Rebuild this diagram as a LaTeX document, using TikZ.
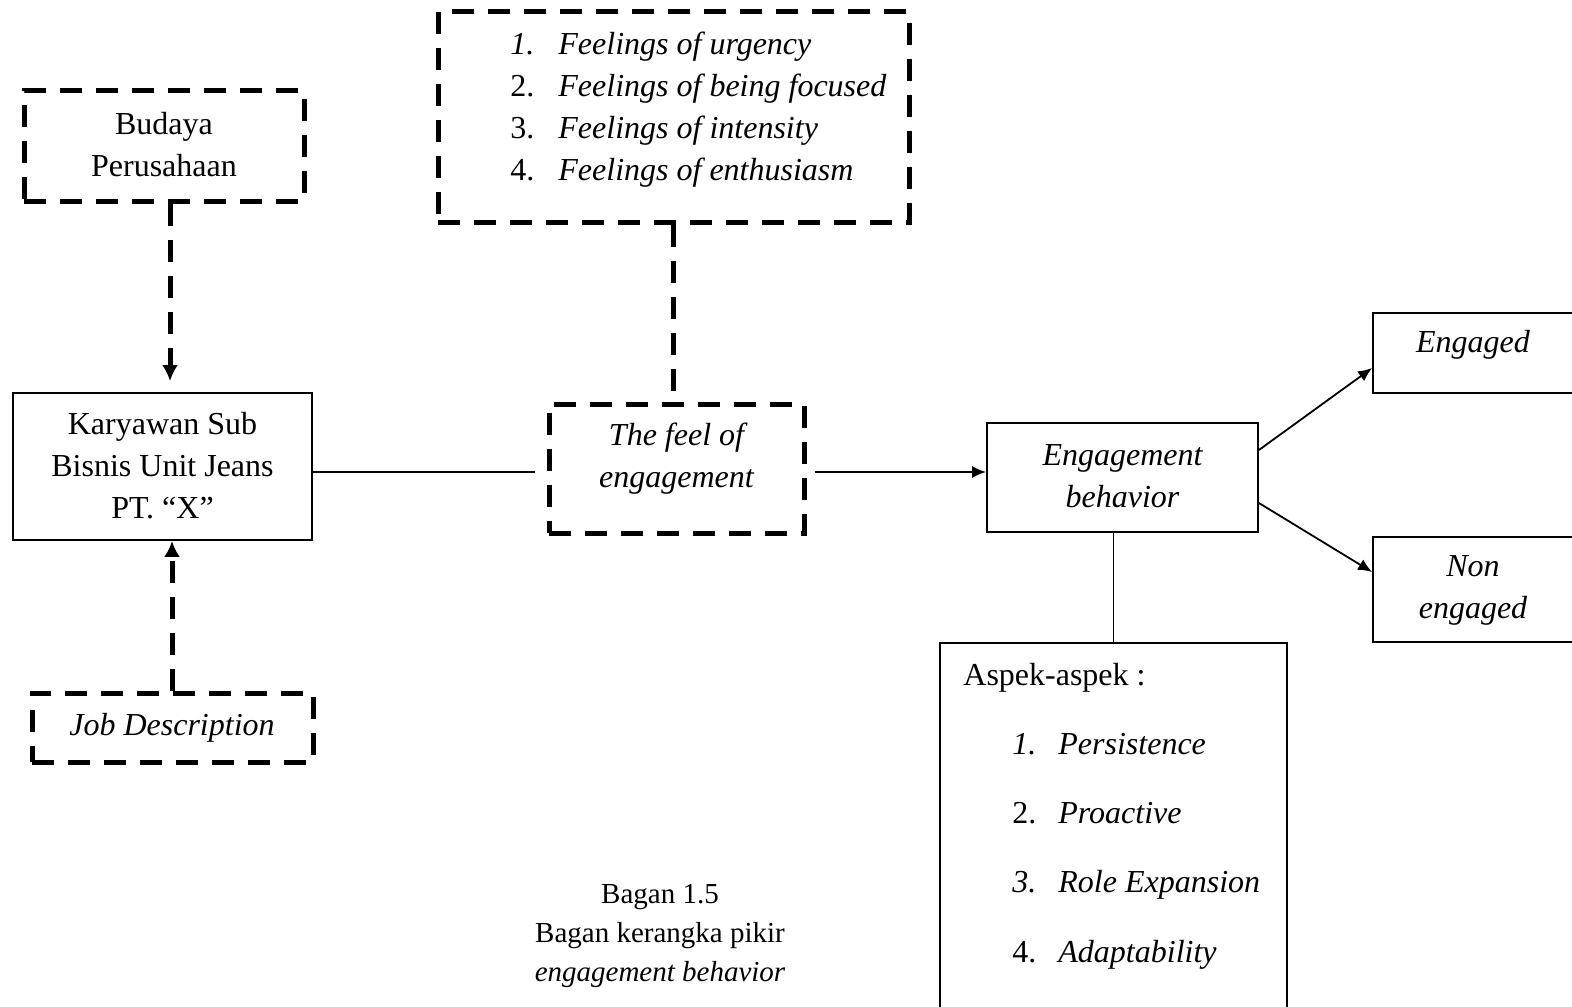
\documentclass[tikz,border=0pt]{standalone}
\usepackage{fontspec}
\setmainfont{Liberation Serif}
\usetikzlibrary{arrows.meta}
\begin{document}
\begin{tikzpicture}[x=0.5pt,y=-0.5pt,
  dbox/.style={draw, line width=2.5pt, dash pattern=on 11pt off 7pt, inner sep=0pt},
  sbox/.style={draw, line width=0.9pt, inner sep=0pt},
  txt/.style={font=\fontsize{16}{21}\selectfont, align=center, inner sep=0pt},
  ltxt/.style={font=\fontsize{16}{21}\selectfont, inner sep=0pt, anchor=base west},
  ctxt/.style={font=\fontsize{14.5}{19.5}\selectfont, inner sep=0pt, anchor=base},
  darrow/.style={line width=2.5pt, dash pattern=on 11pt off 7pt, -{Latex[length=8pt,width=8pt]}},
  dline/.style={line width=2.5pt, dash pattern=on 11pt off 7pt},
  sarr/.style={line width=0.9pt, -{Latex[length=7pt,width=6pt]}},
  sline/.style={line width=0.9pt}]
\useasboundingbox (0,0) rectangle (1572,1006);
\clip (0,0) rectangle (1572,1006);

% boxes
\node[dbox, minimum width=140pt, minimum height=55pt] (bud) at (164,146) {};
\node[txt] (budt) at (164,144.5) {Budaya\\Perusahaan};

\node[sbox, minimum width=149.5pt, minimum height=73.5pt] (kar) at (162.5,466.5) {};
\node[txt] (kart) at (162.5,466) {Karyawan Sub\\Bisnis Unit Jeans\\PT. “X”};

\node[dbox, minimum width=140.5pt, minimum height=34.5pt] (job) at (172.5,727.5) {};
\node[txt, font=\fontsize{16}{21}\selectfont\itshape] (jobt) at (172,728) {Job Description};

\node[dbox, minimum width=235.5pt, minimum height=105pt] (fl) at (673.5,117) {};
\node[ltxt] (n1) at (510,55) {\itshape 1.};
\node[ltxt] (f1) at (558,55) {\itshape Feelings of urgency};
\node[ltxt] (n2) at (510,97) {2.};
\node[ltxt] (f2) at (558,97) {\itshape Feelings of being focused};
\node[ltxt] (n3) at (510,138) {3.};
\node[ltxt] (f3) at (558,138) {\itshape Feelings of intensity};
\node[ltxt] (n4) at (510,180) {4.};
\node[ltxt] (f4) at (558,180) {\itshape Feelings of enthusiasm};

\node[dbox, minimum width=127.5pt, minimum height=64.5pt] (feel) at (676.5,468.5) {};
\node[txt, font=\fontsize{16}{21}\selectfont\itshape] (feelt) at (676.5,459) {The feel of\\engagement};

\node[sbox, minimum width=135.5pt, minimum height=54.5pt] (eb) at (1122.5,477.5) {};
\node[txt, font=\fontsize{16}{21}\selectfont\itshape] (ebt) at (1122.5,476) {Engagement\\behavior};

\node[sbox, minimum width=163.5pt, minimum height=40pt] (eng) at (1536.5,353) {};
\node[txt, font=\fontsize{16}{21}\selectfont\itshape] (engt) at (1473,345) {Engaged};

\node[sbox, minimum width=163.5pt, minimum height=52.5pt] (neng) at (1536.5,589.5) {};
\node[txt, font=\fontsize{16}{21}\selectfont\itshape] (nengt) at (1473,590) {Non\\engaged};

\node[sbox, minimum width=173.5pt, minimum height=228.5pt] (asp) at (1113.5,871.5) {};
\node[ltxt] (asph) at (963,685) {Aspek-aspek :};
\node[ltxt] (a1n) at (1012,754) {\itshape 1.};
\node[ltxt] (a1) at (1058,754) {\itshape Persistence};
\node[ltxt] (a2n) at (1012,823) {2.};
\node[ltxt] (a2) at (1058,823) {\itshape Proactive};
\node[ltxt] (a3n) at (1012,892) {\itshape 3.};
\node[ltxt] (a3) at (1058,892) {\itshape Role Expansion};
\node[ltxt] (a4n) at (1012,962) {4.};
\node[ltxt] (a4) at (1058,962) {\itshape Adaptability};

% caption
\node[ctxt] (c1) at (660,903) {Bagan 1.5};
\node[ctxt] (c2) at (660,942) {Bagan kerangka pikir};
\node[ctxt] (c3) at (660,981) {\itshape engagement behavior};

% connectors
\draw[darrow, shorten >=5.5pt] ([xshift=3pt]bud.south) -- ([xshift=3.75pt]kar.north);
\draw[darrow] ([xshift=-0.25pt]job.north) -- ([xshift=4.75pt]kar.south);
\draw[sline, shorten >=6pt] ([yshift=-2.75pt]kar.east) -- ([yshift=-1.75pt]feel.west);
\draw[dline, shorten >=5pt] (fl.south) -- (fl.south |- feel.north);
\draw[sarr, shorten <=4pt] ([yshift=-1.75pt]feel.east) -- ([yshift=2.75pt]eb.west);
\draw[sarr] ([yshift=13.75pt]eb.east) -- ([yshift=-7.5pt]eng.west);
\draw[sarr] ([yshift=-12.75pt]eb.east) -- ([yshift=8.75pt]neng.west);
\draw[sline] (asp.north) -- (asp.north |- eb.south);
\end{tikzpicture}
\end{document}
